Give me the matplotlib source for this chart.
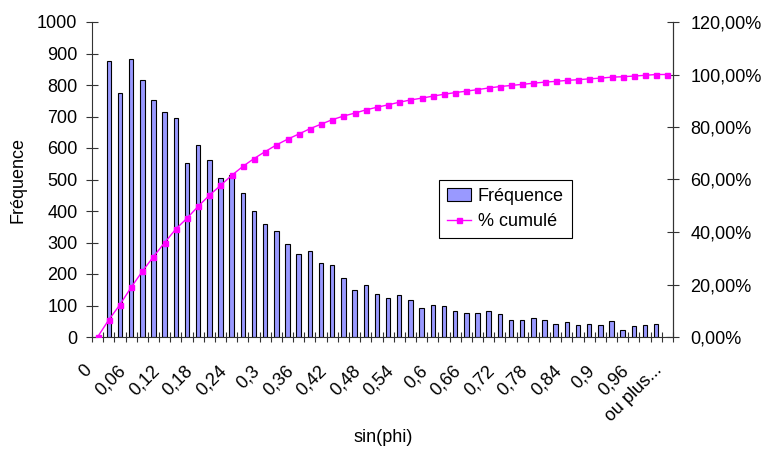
import numpy as np
import matplotlib.pyplot as plt
from matplotlib.ticker import FuncFormatter
from matplotlib.transforms import ScaledTranslation

plt.rcParams['font.family'] = ['Liberation Sans', 'DejaVu Sans']

# classes de l'histogramme (bornes sup.) + derniere classe
classes = ["%g" % round(0.02 * i, 2) for i in range(51)] + ["ou plus..."]
classes = [c.replace(".", ",") if c != "ou plus..." else c for c in classes]

freq = [0,
        875, 775, 883, 816, 753, 714, 695, 552, 608, 562,
        504, 515, 458, 401, 358, 337, 294, 262, 272, 234,
        228, 186, 148, 165, 137, 124, 132, 116, 93, 102,
        97, 84, 75, 77, 84, 74, 55, 55, 60, 55,
        40, 48, 37, 42, 37, 50, 22, 35, 37, 42,
        0]

freq = np.array(freq)
cumul = np.cumsum(freq) / freq.sum()
x = np.arange(len(freq))

fig = plt.figure(figsize=(7.67, 4.57), dpi=100)
W, H = 767, 457
ax = fig.add_axes([92 / W, (H - 337) / H, (673 - 92) / W, (337 - 22) / H])
ax2 = ax.twinx()

bars = ax.bar(x, freq, width=0.4, color='#9999ff', edgecolor='black', linewidth=0.8,
              label='Fréquence')
line, = ax2.plot(x, cumul, color='#ff00ff', linewidth=1, marker='s', markersize=3.6,
                 label='% cumulé')

ax.set_xlim(-0.5, len(freq) - 0.5)
ax.set_ylim(0, 1000)
ax2.set_ylim(0, 1.2)
ax.set_yticks(np.arange(0, 1001, 100))
ax2.set_yticks(np.arange(0, 1.21, 0.2))
ax2.yaxis.set_major_formatter(FuncFormatter(lambda v, p: ("%.2f%%" % (v * 100)).replace(".", ",")))

# ticks entre les classes, etiquettes toutes les 3 classes
ax.set_xticks(np.arange(-0.5, len(freq), 1), minor=False)
ax.set_xticklabels([])
ax.set_xticks(x[::3], minor=True)
ax.set_xticklabels([classes[i] for i in x[::3]], minor=True, rotation=45,
                   ha='right', va='top', rotation_mode='anchor', fontsize=13)
ax.tick_params(axis='x', which='minor', length=0, pad=18)
ax.tick_params(axis='x', which='major', direction='inout', length=7, color='#333333')
off = ScaledTranslation(-14 / 100, 0, fig.dpi_scale_trans)
for lab in ax.get_xticklabels(minor=True):
    lab.set_transform(lab.get_transform() + off)

ax.tick_params(axis='y', direction='inout', length=9, pad=6, labelsize=13, color='#333333')
ax2.tick_params(axis='y', direction='inout', length=9, pad=8, labelsize=13, color='#333333')

for a in (ax, ax2):
    a.spines['top'].set_visible(False)
    for s in a.spines.values():
        s.set_color('#333333')
ax2.spines['left'].set_visible(False)
ax2.spines['bottom'].set_visible(False)

fig.text(18 / W, 1 - 180 / H, 'Fréquence', rotation=90, ha='center', va='center', fontsize=13)
fig.text(383 / W, 1 - 437 / H, 'sin(phi)', ha='center', va='center', fontsize=13)

leg = ax2.legend([bars, line], ['Fréquence', '% cumulé'], loc='upper left',
                 bbox_to_anchor=(439 / W, 1 - 180 / H), bbox_transform=fig.transFigure,
                 fontsize=13, frameon=True, fancybox=False, framealpha=1,
                 edgecolor='black', borderpad=0.45, labelspacing=0.45,
                 handlelength=1.3, handletextpad=0.4, numpoints=1, borderaxespad=0)
leg.get_frame().set_linewidth(0.8)

fig.savefig('out.png', dpi=100)
